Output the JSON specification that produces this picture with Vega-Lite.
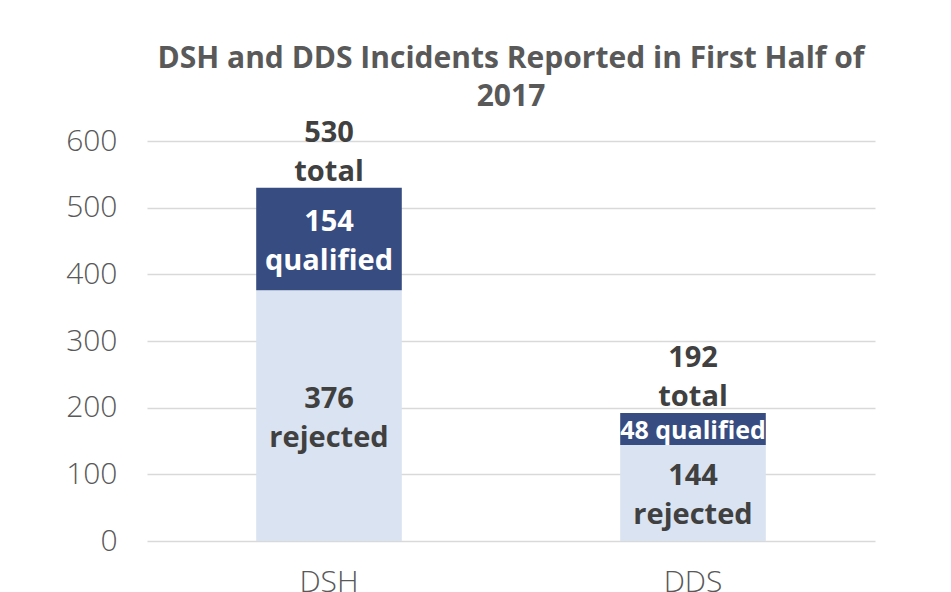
{
  "$schema": "https://vega.github.io/schema/vega-lite/v6.json",
  "width": 728,
  "height": 400,
  "autosize": {"type": "none"},
  "padding": {"left": 147, "top": 141, "right": 76, "bottom": 51},
  "background": "white",
  "title": {
    "text": ["DSH and DDS Incidents Reported in First Half of", "2017"],
    "font": "Open Sans",
    "fontSize": 30,
    "fontWeight": "bold",
    "color": "#595959",
    "anchor": "middle",
    "frame": "group",
    "lineHeight": 38,
    "offset": 7
  },
  "data": {
    "values": [
      {"cat": "DSH", "type": "rejected", "order": 1, "value": 376},
      {"cat": "DSH", "type": "qualified", "order": 2, "value": 154},
      {"cat": "DDS", "type": "rejected", "order": 1, "value": 144},
      {"cat": "DDS", "type": "qualified", "order": 2, "value": 48}
    ]
  },
  "config": {
    "view": {"stroke": null},
    "font": "Open Sans"
  },
  "resolve": {"scale": {"color": "independent"}},
  "encoding": {
    "x": {
      "field": "cat",
      "type": "nominal",
      "sort": ["DSH", "DDS"],
      "scale": {"paddingInner": 0.6, "paddingOuter": 0.3},
      "axis": {
        "title": null,
        "labelAngle": 0,
        "labelFont": "Open Sans",
        "labelFontSize": 30,
        "labelFontWeight": 300,
        "labelColor": "#595959",
        "labelPadding": 26,
        "ticks": false,
        "domain": false
      }
    }
  },
  "layer": [
    {
      "mark": {"type": "bar"},
      "encoding": {
        "y": {
          "field": "value",
          "type": "quantitative",
          "stack": "zero",
          "scale": {"domain": [0, 600]},
          "axis": {
            "title": null,
            "values": [0, 100, 200, 300, 400, 500, 600],
            "labelFont": "Open Sans",
            "labelFontSize": 30,
            "labelFontWeight": 300,
            "labelColor": "#595959",
            "labelPadding": 30,
            "ticks": false,
            "domain": false,
            "grid": true,
            "gridColor": "#d9d9d9",
            "gridWidth": 1.5
          }
        },
        "color": {
          "field": "type",
          "type": "nominal",
          "scale": {"domain": ["rejected", "qualified"], "range": ["#dae3f1", "#374c80"]},
          "legend": null
        },
        "order": {"field": "order", "type": "quantitative"}
      }
    },
    {
      "transform": [
        {"stack": "value", "groupby": ["cat"], "sort": [{"field": "order"}], "as": ["y0", "y1"]},
        {"calculate": "(datum.y0 + datum.y1) / 2", "as": "mid"},
        {"filter": "!(datum.cat == 'DDS' && datum.type == 'qualified')"},
        {"calculate": "[datum.value + '', datum.type]", "as": "label"}
      ],
      "mark": {"type": "text", "fontWeight": "bold", "fontSize": 29, "lineHeight": 39, "baseline": "middle", "dy": -17, "font": "Open Sans"},
      "encoding": {
        "y": {"field": "mid", "type": "quantitative"},
        "text": {"field": "label"},
        "color": {
          "field": "type",
          "type": "nominal",
          "scale": {"domain": ["rejected", "qualified"], "range": ["#404040", "#ffffff"]},
          "legend": null
        }
      }
    },
    {
      "transform": [
        {"stack": "value", "groupby": ["cat"], "sort": [{"field": "order"}], "as": ["y0", "y1"]},
        {"calculate": "(datum.y0 + datum.y1) / 2", "as": "mid"},
        {"filter": "datum.cat == 'DDS' && datum.type == 'qualified'"},
        {"calculate": "datum.value + ' ' + datum.type", "as": "label"}
      ],
      "mark": {"type": "text", "fontWeight": "bold", "fontSize": 25, "baseline": "middle", "dy": 2, "color": "#ffffff", "font": "Open Sans"},
      "encoding": {
        "y": {"field": "mid", "type": "quantitative"},
        "text": {"field": "label"}
      }
    },
    {
      "transform": [
        {"aggregate": [{"op": "sum", "field": "value", "as": "total"}], "groupby": ["cat"]},
        {"calculate": "[datum.total + '', 'total']", "as": "label"}
      ],
      "mark": {"type": "text", "fontWeight": "bold", "fontSize": 29, "lineHeight": 39, "baseline": "bottom", "dy": -40, "color": "#404040", "font": "Open Sans"},
      "encoding": {
        "y": {"field": "total", "type": "quantitative"},
        "text": {"field": "label"}
      }
    }
  ]
}
